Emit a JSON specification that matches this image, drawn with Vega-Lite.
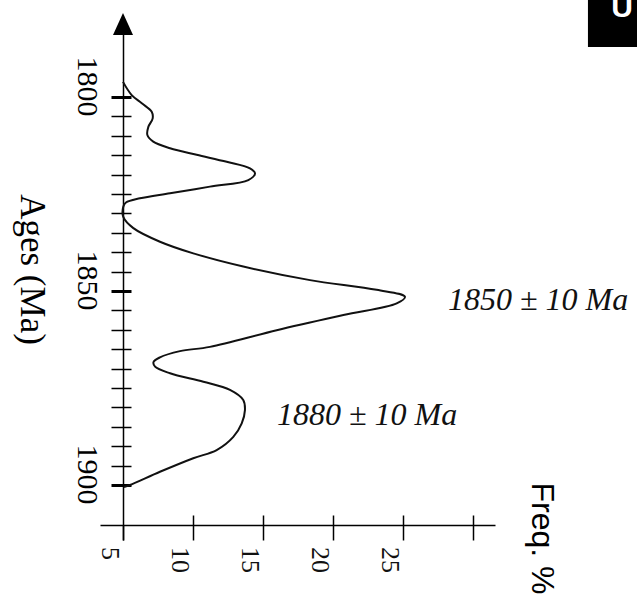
{
  "$schema": "https://vega.github.io/schema/vega-lite/v6.json",
  "autosize": "none",
  "width": 395,
  "height": 520,
  "padding": {"left": 100, "top": 20, "right": 142, "bottom": 57},
  "background": "white",
  "config": {"view": {"stroke": null}},
  "datasets": {
    "curve": [
      {"age": 1796.1, "freq": 5.0},
      {"age": 1799.5, "freq": 5.62},
      {"age": 1801.6, "freq": 6.34},
      {"age": 1803.8, "freq": 7.05},
      {"age": 1805.5, "freq": 7.12},
      {"age": 1807.7, "freq": 6.81},
      {"age": 1809.8, "freq": 6.74},
      {"age": 1811.5, "freq": 7.16},
      {"age": 1813.2, "freq": 8.36},
      {"age": 1814.9, "freq": 10.26},
      {"age": 1816.7, "freq": 12.41},
      {"age": 1818.4, "freq": 14.07},
      {"age": 1819.7, "freq": 14.43},
      {"age": 1821.4, "freq": 13.95},
      {"age": 1823.1, "freq": 11.21},
      {"age": 1824.8, "freq": 8.36},
      {"age": 1826.1, "freq": 6.21},
      {"age": 1827.2, "freq": 5.21},
      {"age": 1828.3, "freq": 5.02},
      {"age": 1830.9, "freq": 5.02},
      {"age": 1833.8, "freq": 5.74},
      {"age": 1837.3, "freq": 7.64},
      {"age": 1840.3, "freq": 10.02},
      {"age": 1843.7, "freq": 13.59},
      {"age": 1847.2, "freq": 18.36},
      {"age": 1849.7, "freq": 23.12},
      {"age": 1851.5, "freq": 25.14},
      {"age": 1853.2, "freq": 24.55},
      {"age": 1856.2, "freq": 20.74},
      {"age": 1860.1, "freq": 15.98},
      {"age": 1864.4, "freq": 11.21},
      {"age": 1865.5, "freq": 9.07},
      {"age": 1867.1, "freq": 7.64},
      {"age": 1868.3, "freq": 7.18},
      {"age": 1869.5, "freq": 7.29},
      {"age": 1871.2, "freq": 8.36},
      {"age": 1873.4, "freq": 10.74},
      {"age": 1875.5, "freq": 12.64},
      {"age": 1878.1, "freq": 13.59},
      {"age": 1880.7, "freq": 13.71},
      {"age": 1884.1, "freq": 13.48},
      {"age": 1887.6, "freq": 12.88},
      {"age": 1891.0, "freq": 11.69},
      {"age": 1893.1, "freq": 10.02},
      {"age": 1896.6, "freq": 7.64},
      {"age": 1900.0, "freq": 5.5},
      {"age": 1900.5, "freq": 5.07}
    ],
    "notes": [
      {"age": 1854.9, "freq": 28.21, "label": "1850 ± 10 Ma"},
      {"age": 1884.5, "freq": 16.0, "label": "1880 ± 10 Ma"}
    ],
    "freqTicks": [
      {"freq": 5}, {"freq": 10}, {"freq": 15}, {"freq": 20}, {"freq": 25}
    ],
    "one": [{}]
  },
  "resolve": {"axis": {"x": "independent", "y": "independent"}},
  "layer": [
    {
      "data": {"name": "curve"},
      "mark": {"type": "line", "interpolate": "catmull-rom", "color": "#111111", "strokeWidth": 2},
      "encoding": {
        "x": {
          "field": "freq", "type": "quantitative",
          "scale": {"domain": [3.357, 31.571], "nice": false, "zero": false},
          "axis": {
            "orient": "top", "offset": -505, "values": [10, 15, 20, 25, 30], "labels": false, "domain": false, "grid": false, "tickSize": 10, "tickWidth": 1.5, "tickColor": "black", "title": null
          }
        },
        "y": {
          "field": "age", "type": "quantitative",
          "scale": {"domain": [1780.15, 1914.18], "nice": false, "zero": false, "reverse": true},
          "axis": {
            "orient": "left", "offset": -23, "grid": false,
            "values": [1800, 1805, 1810, 1815, 1820, 1825, 1830, 1835, 1840, 1845, 1850, 1855, 1860, 1865, 1870, 1875, 1880, 1885, 1890, 1895, 1900],
            "format": "d",
            "labelExpr": "datum.value % 50 === 0 ? datum.label : ''",
            "tickSize": 12, "tickColor": "black",
            "tickWidth": {"condition": {"test": "datum.value % 50 === 0", "value": 3}, "value": 1.5},
            "domainColor": "black", "domainWidth": 1.5,
            "labelAngle": 90, "labelAlign": "center", "labelBaseline": "top", "labelPadding": 10, "labelOffset": -11,
            "labelFont": "Liberation Serif", "labelFontSize": 30, "labelColor": "black",
            "labelOverlap": false, "labelFlush": false,
            "title": "Ages (Ma)", "titleFont": "Liberation Serif", "titleFontSize": 35,
            "titleFontWeight": "normal", "titleColor": "black", "titleAngle": 90,
            "titleAlign": "center", "titleBaseline": "alphabetic", "titleX": -103, "titleY": 249
          }
        },
        "order": {"field": "age", "type": "quantitative"}
      }
    },
    {
      "data": {"name": "notes"},
      "mark": {"type": "text", "font": "Liberation Serif", "fontStyle": "italic", "fontSize": 32, "align": "left", "baseline": "alphabetic", "color": "#111111"},
      "encoding": {
        "x": {
          "field": "freq", "type": "quantitative",
          "axis": {
            "orient": "bottom", "offset": -15, "grid": false,
            "values": [5, 10, 15, 20, 25, 30],
            "labels": false,
            "tickSize": 15, "tickWidth": 1.5, "tickColor": "black",
            "domainColor": "black", "domainWidth": 1.5,
            "title": "Freq. %", "titleFont": "Liberation Sans", "titleFontSize": 32,
            "titleFontWeight": "normal", "titleColor": "black", "titleAngle": 90,
            "titleAlign": "left", "titleBaseline": "alphabetic", "titleX": 431, "titleY": -43
          }
        },
        "y": {
          "field": "age", "type": "quantitative",
          "axis": {
            "orient": "right", "offset": -372, "labels": false, "domain": false, "grid": false, "title": null,
            "values": [1800, 1805, 1810, 1815, 1820, 1825, 1830, 1835, 1840, 1845, 1850, 1855, 1860, 1865, 1870, 1875, 1880, 1885, 1890, 1895, 1900],
            "tickSize": 8, "tickColor": "black",
            "tickWidth": {"condition": {"test": "datum.value % 50 === 0", "value": 3}, "value": 1.5}
          }
        },
        "text": {"field": "label", "type": "nominal"}
      }
    },
    {
      "data": {"name": "freqTicks"},
      "mark": {"type": "text", "font": "Liberation Serif", "fontSize": 26, "angle": 90, "align": "left", "baseline": "top", "color": "#111111"},
      "encoding": {
        "x": {"field": "freq", "type": "quantitative", "axis": null},
        "y": {"datum": 1916.0, "type": "quantitative", "axis": null},
        "text": {"field": "freq", "type": "quantitative", "format": "d"}
      }
    },
    {
      "data": {"name": "one"},
      "mark": {"type": "point", "shape": "M0,-1.1L1,1.1L-1,1.1Z", "size": 400, "filled": true, "color": "black", "opacity": 1},
      "encoding": {
        "x": {"datum": 5, "type": "quantitative", "axis": null},
        "y": {"datum": 1781.2, "type": "quantitative", "axis": null}
      }
    },
    {
      "data": {"name": "one"},
      "mark": {"type": "rect", "color": "black"},
      "encoding": {
        "x": {"datum": 38.21, "type": "quantitative", "axis": null},
        "x2": {"datum": 42.5},
        "y": {"datum": 1774.0, "type": "quantitative", "axis": null},
        "y2": {"datum": 1787.1}
      }
    },
    {
      "data": {"name": "one"},
      "mark": {"type": "text", "text": "U", "font": "Liberation Sans", "fontSize": 30, "fontWeight": "bold", "color": "white", "align": "center", "baseline": "alphabetic"},
      "encoding": {
        "x": {"datum": 40.64, "type": "quantitative", "axis": null},
        "y": {"datum": 1779.4, "type": "quantitative", "axis": null}
      }
    }
  ]
}
